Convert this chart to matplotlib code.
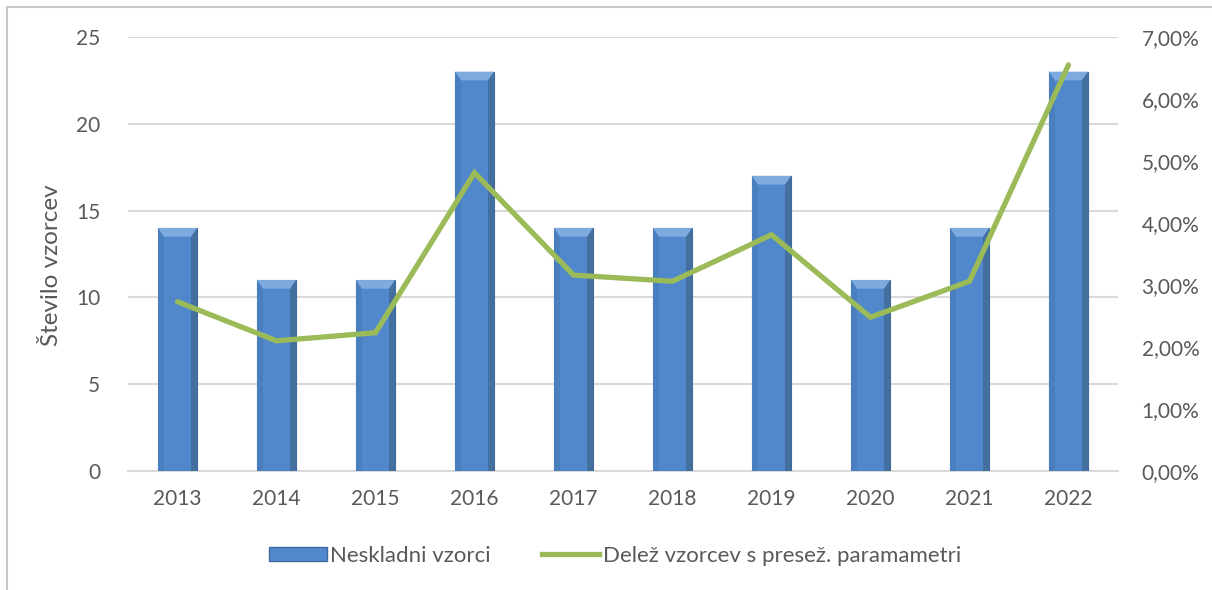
import matplotlib
matplotlib.use("Agg")
import matplotlib.pyplot as plt
from matplotlib.ticker import FuncFormatter
from matplotlib.patches import Rectangle, Polygon
from matplotlib.lines import Line2D
import numpy as np

years = ["2013", "2014", "2015", "2016", "2017", "2018", "2019", "2020", "2021", "2022"]
neskladni = [14, 11, 11, 23, 14, 14, 17, 11, 14, 23]
delez = [2.73, 2.10, 2.23, 4.81, 3.16, 3.06, 3.81, 2.48, 3.06, 6.55]  # %

plt.rcParams['font.family'] = ['Lato', 'DejaVu Sans']
txt = '#595959'
grid_c = '#d9d9d9'
bar_c = '#5088cb'
line_c = '#9bbb59'

fig = plt.figure(figsize=(12.12, 5.9), dpi=100)
ax = fig.add_axes([0.1056, 0.2017, 0.8168, 0.7356])
x = np.arange(len(years))

bars = ax.bar(x, neskladni, width=0.4, color=bar_c, edgecolor='#3f6a9e', linewidth=0.8, zorder=3)

ax.set_xlim(-0.5, len(years) - 0.5)
ax.set_ylim(0, 25)

# bevel effect derived from each bar's geometry
dx, dy = 0.06, 0.5
for r in bars:
    x0, w, h = r.get_x(), r.get_width(), r.get_height()
    ax.add_patch(Polygon([(x0, h), (x0 + w, h), (x0 + w - dx, h - dy), (x0 + dx, h - dy)],
                         closed=True, facecolor='#7eaae0', edgecolor='none', zorder=3.2))
    ax.add_patch(Polygon([(x0 + w, h), (x0 + w, 0), (x0 + w - dx, 0), (x0 + w - dx, h - dy)],
                         closed=True, facecolor='#44709f', edgecolor='none', zorder=3.2))
    ax.add_patch(Polygon([(x0, h), (x0, 0), (x0 + dx, 0), (x0 + dx, h - dy)],
                         closed=True, facecolor='#4a7fbf', edgecolor='none', zorder=3.2))

ax.set_yticks([0, 5, 10, 15, 20, 25])
ax.set_xticks(x)
ax.set_xticklabels(years)
ax.yaxis.grid(True, color=grid_c, linewidth=1.5, zorder=0)
ax.set_axisbelow(True)
for s in ['top', 'right', 'left']:
    ax.spines[s].set_visible(False)
ax.spines['bottom'].set_color(grid_c)
ax.spines['bottom'].set_linewidth(1.5)
ax.tick_params(axis='both', length=0, labelsize=15, colors=txt)
ax.tick_params(axis='y', pad=20)
ax.tick_params(axis='x', pad=13)
ax.set_ylabel("Število vzorcev", fontsize=17.5, color=txt)
ax.yaxis.set_label_coords(-0.0667, 0.475)

ax2 = ax.twinx()
ax2.plot(x, delez, color=line_c, linewidth=3.8, solid_capstyle='round', solid_joinstyle='miter', zorder=5)
ax2.set_ylim(0, 7)
ax2.set_yticks(np.arange(0, 8, 1))
ax2.yaxis.set_major_formatter(FuncFormatter(lambda v, p: f"{v:.2f}%".replace('.', ',')))
for s in ['top', 'right', 'left', 'bottom']:
    ax2.spines[s].set_visible(False)
ax2.tick_params(axis='y', length=0, labelsize=15, colors=txt, pad=17)

handles = [Rectangle((0, 0), 1, 1, facecolor=bar_c, edgecolor='#3f6a9e'),
           Line2D([0], [0], color=line_c, linewidth=3.8)]
fig.legend(handles, ["Neskladni vzorci", "Delež vzorcev s presež. paramametri"],
           loc='center', bbox_to_anchor=(0.5074, 0.058), ncol=2, frameon=False,
           fontsize=16, labelcolor=txt, handlelength=2.6, handletextpad=0.15,
           columnspacing=2.3, handleheight=0.6)

# chart border (top-left visible)
fig.add_artist(Line2D([7/1212, 7/1212], [0, 1 - 7/590], transform=fig.transFigure, color='#c8c8c8', linewidth=1.5))
fig.add_artist(Line2D([7/1212, 1], [1 - 7/590, 1 - 7/590], transform=fig.transFigure, color='#c8c8c8', linewidth=1.5))

fig.savefig("out.png", dpi=100, facecolor='white')
